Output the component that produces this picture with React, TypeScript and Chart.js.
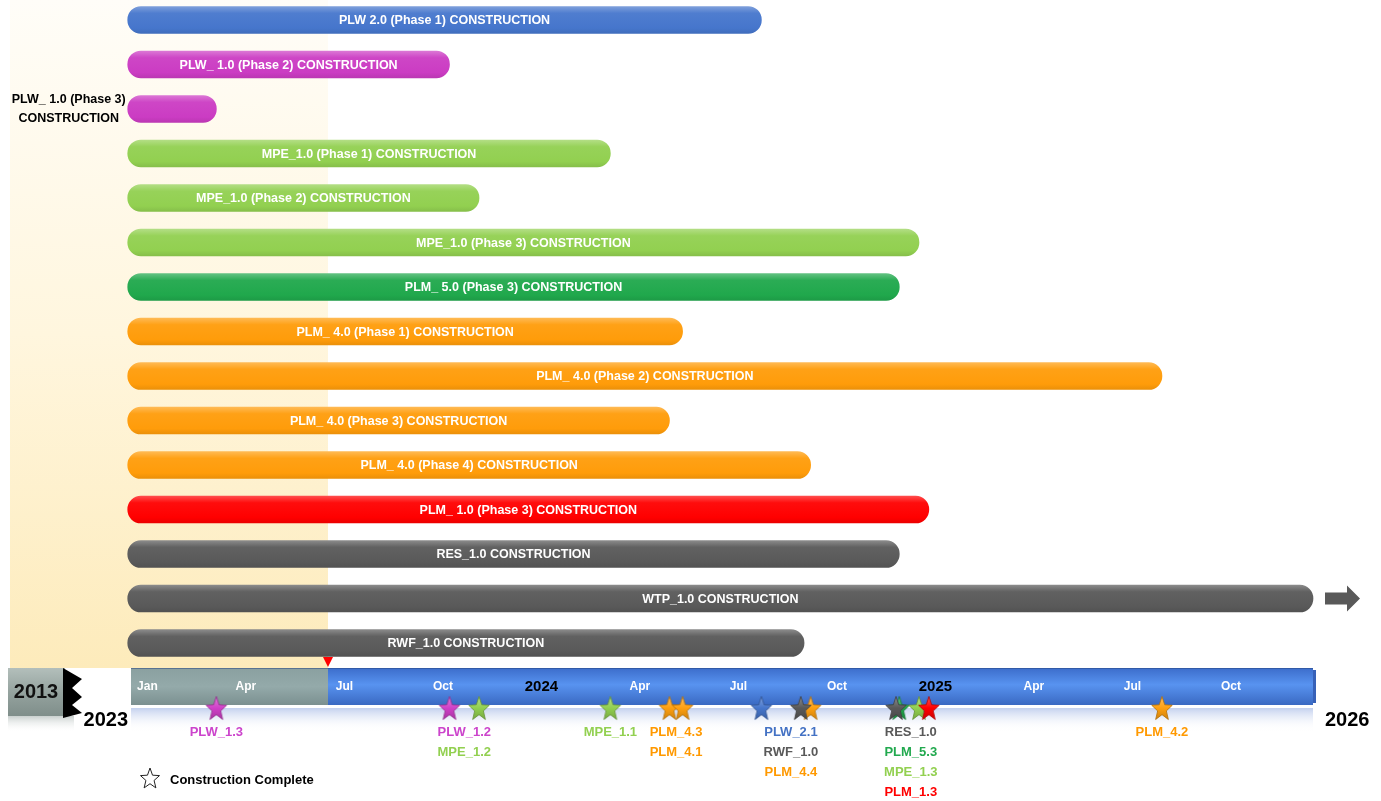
import React, { useEffect, useRef } from "react";
import { Chart, registerables } from "chart.js";
Chart.register(...registerables);

const W = 1381;
const H = 801;
const FONT = '"Liberation Sans", Arial, sans-serif';

// ---- bars (months from Jan 2023) ----
const barLabels = [
  "PLW 2.0 (Phase 1) CONSTRUCTION",
  "PLW_ 1.0 (Phase 2) CONSTRUCTION",
  "PLW_ 1.0 (Phase 3) CONSTRUCTION",
  "MPE_1.0 (Phase 1) CONSTRUCTION",
  "MPE_1.0 (Phase 2) CONSTRUCTION",
  "MPE_1.0 (Phase 3) CONSTRUCTION",
  "PLM_ 5.0 (Phase 3) CONSTRUCTION",
  "PLM_ 4.0 (Phase 1) CONSTRUCTION",
  "PLM_ 4.0 (Phase 2) CONSTRUCTION",
  "PLM_ 4.0 (Phase 3) CONSTRUCTION",
  "PLM_ 4.0 (Phase 4) CONSTRUCTION",
  "PLM_ 1.0 (Phase 3) CONSTRUCTION",
  "RES_1.0 CONSTRUCTION",
  "WTP_1.0 CONSTRUCTION",
  "RWF_1.0 CONSTRUCTION",
];
const barStarts = [-0.1, -0.1, -0.1, -0.1, -0.1, -0.1, -0.1, -0.1, -0.1, -0.1, -0.1, -0.1, -0.1, -0.1, -0.1];
const barEnds = [19.2, 9.7, 2.6, 14.6, 10.6, 24.0, 23.4, 16.8, 31.4, 16.4, 20.7, 24.3, 23.4, 36, 20.5];
const barColors = [
  "#4676cc", "#cb3cc3", "#cb3cc3", "#92d050", "#92d050", "#92d050", "#20a84c",
  "#ff9c0a", "#ff9c0a", "#ff9c0a", "#ff9c0a", "#ff0000", "#595959", "#595959", "#595959",
];

// ---- milestones ----
const milestoneNames = ["PLW_1.3", "PLW_1.2", "MPE_1.2", "MPE_1.1", "PLM_4.3", "PLM_4.1", "PLW_2.1", "PLM_4.4", "RWF_1.0", "PLM_5.3", "RES_1.0", "MPE_1.3", "PLM_1.3", "PLM_4.2"];
const milestoneMonths = [2.6, 9.7, 10.6, 14.6, 16.4, 16.8, 19.2, 20.7, 20.4, 23.4, 23.3, 24.0, 24.3, 31.4];
const milestoneColors = ["#d040c8", "#d040c8", "#92d050", "#92d050", "#ffa010", "#ffa010", "#4676cc", "#ffa010", "#595959", "#20a84c", "#595959", "#92d050", "#ff0000", "#ffa010"];
const labelColors = ["#cc44cc", "#cc44cc", "#92d050", "#92d050", "#ff9900", "#ff9900", "#4472c4", "#ff9900", "#595959", "#22a94f", "#595959", "#92d050", "#ff0000", "#ff9900"];
const labelGroups = [
  ["PLW_1.3"],
  ["PLW_1.2", "MPE_1.2"],
  ["MPE_1.1"],
  ["PLM_4.3", "PLM_4.1"],
  ["PLW_2.1", "RWF_1.0", "PLM_4.4"],
  ["RES_1.0", "PLM_5.3", "MPE_1.3", "PLM_1.3"],
  ["PLM_4.2"],
];
const starRow = 15.46;

// ---- timeline ----
const tickMonths = [0, 3, 6, 9, 12, 15, 18, 21, 24, 27, 30, 33];
const tickLabels = ["Jan", "Apr", "Jul", "Oct", "2024", "Apr", "Jul", "Oct", "2025", "Apr", "Jul", "Oct"];
const xMin = 0;
const xMax = 36;
const todayMonth = 6;
const prevYearLabel = "2013";
const startYearLabel = "2023";
const endYearLabel = "2026";
const legendLabel = "Construction Complete";

function mix(hex: string, amt: number): string {
  const n = parseInt(hex.slice(1), 16);
  let r = (n >> 16) & 255, g = (n >> 8) & 255, b = n & 255;
  const t = amt > 0 ? 255 : 0;
  const a = Math.abs(amt);
  r = Math.round(r + (t - r) * a);
  g = Math.round(g + (t - g) * a);
  b = Math.round(b + (t - b) * a);
  return `rgb(${r},${g},${b})`;
}

function starPath(ctx: CanvasRenderingContext2D, cx: number, cy: number, R: number, r: number, sy: number) {
  ctx.beginPath();
  for (let i = 0; i < 10; i++) {
    const a = -Math.PI / 2 + (i * Math.PI) / 5;
    const rad = i % 2 === 0 ? R : r;
    const px = cx + rad * Math.cos(a);
    const py = cy + rad * Math.sin(a) * sy;
    if (i === 0) ctx.moveTo(px, py);
    else ctx.lineTo(px, py);
  }
  ctx.closePath();
}

function makeStar(color: string): HTMLCanvasElement {
  const c = document.createElement("canvas");
  c.width = 26;
  c.height = 28;
  const ctx = c.getContext("2d")!;
  const g = ctx.createLinearGradient(0, 2, 0, 26);
  g.addColorStop(0, mix(color, 0.35));
  g.addColorStop(0.5, color);
  g.addColorStop(1, mix(color, -0.2));
  starPath(ctx, 13, 15.2, 10.8, 4.6, 1.18);
  ctx.fillStyle = g;
  ctx.fill();
  ctx.lineWidth = 0.8;
  ctx.strokeStyle = mix(color, -0.3);
  ctx.stroke();
  return c;
}

const deco = {
  id: "deco",
  beforeDatasetsDraw(chart: any) {
    const { ctx, scales } = chart;
    const x = scales.x;
    const x0 = x.getPixelForValue(xMin);
    const x1 = x.getPixelForValue(xMax);
    const xt = x.getPixelForValue(todayMonth);
    const bandTop = 668;
    const bandBot = 705;
    ctx.save();
    // shaded "past" region
    let g = ctx.createLinearGradient(0, 0, 0, bandTop);
    g.addColorStop(0, "#fffdf8");
    g.addColorStop(0.5, "#fff6de");
    g.addColorStop(1, "#fdebbb");
    ctx.fillStyle = g;
    ctx.fillRect(10, 0, xt - 10, bandTop);

    // reflection under band
    g = ctx.createLinearGradient(0, bandBot + 3, 0, bandBot + 26);
    g.addColorStop(0, "#c3d0ee");
    g.addColorStop(1, "rgba(255,255,255,0)");
    ctx.fillStyle = g;
    ctx.fillRect(x0, bandBot + 3, x1 - x0, 23);

    // band: past (grey) and future (blue)
    g = ctx.createLinearGradient(0, bandTop, 0, bandBot);
    g.addColorStop(0, "#8aa0a0");
    g.addColorStop(0.5, "#94aaaa");
    g.addColorStop(1, "#7b9090");
    ctx.fillStyle = g;
    ctx.fillRect(x0, bandTop, xt - x0, bandBot - bandTop);
    g = ctx.createLinearGradient(0, bandTop, 0, bandBot);
    g.addColorStop(0, "#3c6dcb");
    g.addColorStop(0.45, "#5893f0");
    g.addColorStop(1, "#3a69c2");
    ctx.fillStyle = g;
    ctx.fillRect(xt, bandTop, x1 - xt, bandBot - bandTop);
    ctx.fillStyle = "#3761b8";
    ctx.fillRect(x1, bandTop + 2, 3, bandBot - bandTop - 4);
    ctx.fillStyle = "rgba(40,70,130,0.5)";
    ctx.fillRect(x0, bandTop, x1 - x0, 1);

    // tick labels
    ctx.textAlign = "center";
    ctx.textBaseline = "middle";
    tickMonths.forEach((m, i) => {
      const lbl = tickLabels[i];
      const isYear = /^\d{4}$/.test(lbl);
      ctx.font = isYear ? `bold 15px ${FONT}` : `bold 12px ${FONT}`;
      ctx.fillStyle = isYear ? "#000000" : "#ffffff";
      ctx.fillText(lbl, x.getPixelForValue(m + 0.5), 687);
    });

    // today marker
    ctx.fillStyle = "#ff0000";
    ctx.beginPath();
    ctx.moveTo(xt - 5, 657);
    ctx.lineTo(xt + 5, 657);
    ctx.lineTo(xt, 667);
    ctx.closePath();
    ctx.fill();

    // 2013 box
    g = ctx.createLinearGradient(0, 716, 0, 732);
    g.addColorStop(0, "#c9d0ce");
    g.addColorStop(1, "rgba(255,255,255,0)");
    ctx.fillStyle = g;
    ctx.fillRect(8, 716, 66, 16);
    g = ctx.createLinearGradient(0, 668, 0, 716);
    g.addColorStop(0, "#b3bfbb");
    g.addColorStop(0.5, "#95a39f");
    g.addColorStop(1, "#7f8e8a");
    ctx.fillStyle = g;
    ctx.fillRect(8, 668, 57, 48);
    ctx.fillStyle = "#000000";
    ctx.beginPath();
    ctx.moveTo(63, 668);
    ctx.lineTo(82, 679);
    ctx.lineTo(72, 688);
    ctx.lineTo(82, 697);
    ctx.lineTo(72, 705);
    ctx.lineTo(82, 713);
    ctx.lineTo(63, 718);
    ctx.closePath();
    ctx.fill();
    ctx.font = `bold 20px ${FONT}`;
    ctx.fillStyle = "#111111";
    ctx.textAlign = "center";
    ctx.fillText(prevYearLabel, 36, 692);
    ctx.restore();
  },
  afterDatasetsDraw(chart: any) {
    const { ctx, scales } = chart;
    const x = scales.x;
    const y = scales.y;
    ctx.save();
    ctx.textBaseline = "middle";
    // bar labels
    barLabels.forEach((lbl, i) => {
      const xs = x.getPixelForValue(barStarts[i]);
      const xe = x.getPixelForValue(barEnds[i]);
      const yc = y.getPixelForValue(i);
      ctx.font = `bold 12.5px ${FONT}`;
      const w = ctx.measureText(lbl).width;
      if (w + 12 < xe - xs) {
        ctx.fillStyle = "#ffffff";
        ctx.textAlign = "center";
        ctx.fillText(lbl, (xs + xe) / 2, yc + 1);
      } else {
        const k = lbl.lastIndexOf(" ");
        const l1 = lbl.slice(0, k);
        const l2 = lbl.slice(k + 1);
        const mw = Math.max(ctx.measureText(l1).width, ctx.measureText(l2).width);
        const cx = xs - 2 - mw / 2;
        ctx.fillStyle = "#000000";
        ctx.textAlign = "center";
        ctx.fillText(l1, cx, yc - 9.5);
        ctx.fillText(l2, cx, yc + 9.5);
      }
      if (barEnds[i] >= xMax) {
        const ax = xe + 12;
        ctx.fillStyle = "#595959";
        ctx.beginPath();
        ctx.moveTo(ax, yc - 6);
        ctx.lineTo(ax + 22, yc - 6);
        ctx.lineTo(ax + 22, yc - 13);
        ctx.lineTo(ax + 35, yc);
        ctx.lineTo(ax + 22, yc + 13);
        ctx.lineTo(ax + 22, yc + 6);
        ctx.lineTo(ax, yc + 6);
        ctx.closePath();
        ctx.fill();
      }
    });

    // milestone labels
    ctx.font = `bold 13px ${FONT}`;
    ctx.textAlign = "center";
    labelGroups.forEach((grp) => {
      const idx = grp.map((n) => milestoneNames.indexOf(n));
      const mean = idx.reduce((s, k) => s + milestoneMonths[k], 0) / idx.length;
      const cx = x.getPixelForValue(mean);
      idx.forEach((k, j) => {
        ctx.fillStyle = labelColors[k];
        ctx.fillText(milestoneNames[k], cx, 732 + j * 20.3);
      });
    });

    // year ends
    const x0 = x.getPixelForValue(xMin);
    const x1 = x.getPixelForValue(xMax);
    ctx.font = `bold 20px ${FONT}`;
    ctx.fillStyle = "#000000";
    ctx.textAlign = "right";
    ctx.fillText(startYearLabel, x0 - 3, 720);
    ctx.textAlign = "left";
    ctx.fillText(endYearLabel, x1 + 12, 720);

    // legend
    starPath(ctx, 150, 779, 10, 4.3, 1.1);
    ctx.fillStyle = "#ffffff";
    ctx.fill();
    ctx.lineWidth = 1;
    ctx.strokeStyle = "#222222";
    ctx.stroke();
    ctx.font = `bold 13px ${FONT}`;
    ctx.fillStyle = "#000000";
    ctx.textAlign = "left";
    ctx.fillText(legendLabel, 170, 780);
    ctx.restore();
  },
};

export default function App() {
  const ref = useRef<HTMLCanvasElement>(null);
  useEffect(() => {
    document.body.style.margin = "0";
    const canvas = ref.current!;
    const starImgs = milestoneColors.map((c) => makeStar(c));
    const chart = new Chart(canvas, {
      type: "bar",
      data: {
        datasets: [
          {
            type: "scatter",
            data: milestoneMonths.map((m) => ({ x: m, y: starRow })),
            pointStyle: (c: any) => starImgs[c.dataIndex] || "circle",
            pointRadius: 11,
            clip: false,
            order: 1,
          } as any,
          {
            type: "bar",
            data: barLabels.map((_, i) => ({ x: [barStarts[i], barEnds[i]], y: i })),
            backgroundColor: (c: any) => {
              const col = barColors[c.dataIndex] || barColors[0];
              const ch = c.chart;
              const ys = ch.scales && ch.scales.y;
              if (c.type !== "data" || !ys) return col;
              const yc = ys.getPixelForValue(c.dataIndex);
              if (!Number.isFinite(yc)) return col;
              const g = ch.ctx.createLinearGradient(0, yc - 13.5, 0, yc + 13.5);
              g.addColorStop(0, mix(col, 0.3));
              g.addColorStop(0.25, mix(col, 0.05));
              g.addColorStop(0.8, col);
              g.addColorStop(1, mix(col, -0.08));
              return g;
            },
            borderRadius: 14,
            borderSkipped: false,
            barThickness: 27,
            clip: false,
            order: 2,
          } as any,
        ],
      },
      options: {
        indexAxis: "y",
        responsive: false,
        animation: false,
        events: [],
        layout: { autoPadding: false, padding: { left: 131, right: 68, top: 0, bottom: 0 } },
        scales: {
          x: { type: "linear", min: xMin, max: xMax, display: false, offset: false, bounds: "data" },
          y: { type: "linear", min: -0.449, max: 17.55, reverse: true, display: false, offset: false, bounds: "data" },
        },
        plugins: { legend: { display: false }, tooltip: { enabled: false } },
      } as any,
      plugins: [deco],
    });
    return () => chart.destroy();
  }, []);
  return <canvas ref={ref} width={W} height={H} style={{ display: "block", width: W, height: H }} />;
}
